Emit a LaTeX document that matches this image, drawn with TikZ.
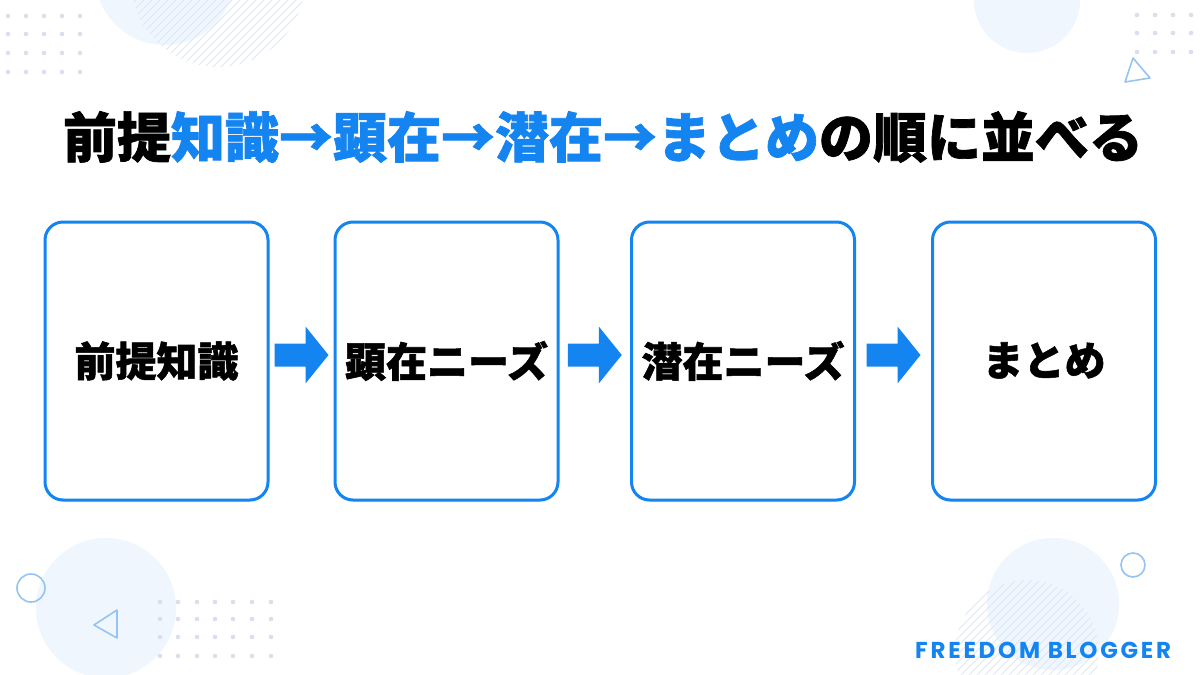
\documentclass[tikz,border=0pt]{standalone}
\usepackage{fontspec}
\newfontfamily\cjk{Noto Sans CJK JP}[BoldFeatures={FakeBold=1.3}]
\newfontfamily\brand{Poppins}[BoldFont={Poppins Bold}, LetterSpace=12]
\usetikzlibrary{calc,shadows}
\definecolor{fbblue}{RGB}{20,132,240}
\definecolor{deco}{RGB}{240,246,254}
\definecolor{hatch}{RGB}{218,232,250}
\definecolor{decoline}{RGB}{150,196,240}
\definecolor{dotc}{RGB}{215,224,240}
\newcommand\barrow[2]{%
  \fill[fbblue] ($(#1.east)!0.5!(#2.west)$) ++(0,-6) ++(-27,-11.5) -- ++(31,0) -- ++(0,-17) -- ++(23,28.5) -- ++(-23,28.5) -- ++(0,-17) -- ++(-31,0) -- cycle;}
\newcommand\boxtxt[1]{\raisebox{4pt}{#1}}
\begin{document}
\begin{tikzpicture}[x=1pt,y=-1pt,
  stepbox/.style={draw=fbblue, line width=3pt, rounded corners=18pt, fill=white,
    minimum width=223pt, minimum height=278pt, inner sep=0pt,
    font=\cjk\bfseries\fontsize{41}{46}\selectfont,
    drop shadow={opacity=0.13, shadow xshift=0pt, shadow yshift=-2pt}},
  dotmark/.style={fill=dotc},
  outl/.style={draw=decoline, line width=1.6pt}]
\useasboundingbox (0,0) rectangle (1200,675);
\fill[white] (0,0) rectangle (1200,675);
% ---- decorations top-left
\fill[deco] (165,-25) circle[radius=70pt];
\begin{scope}
  \clip (218,-20) circle[radius=87pt];
  \foreach \i in {-200,-192,...,500} \draw[hatch, line width=0.9pt] (\i,200) -- (\i+300,-100);
\end{scope}
\foreach \x in {8,26,44,62,80} \foreach \y in {16,34,53,72} \fill[dotmark] (\x,\y) circle[radius=2.3pt];
% ---- top-right
\fill[deco] (1027,0) circle[radius=53pt];
\foreach \x in {1137,1155,1173,1191} \foreach \y in {15,33,52} \fill[dotmark] (\x,\y) circle[radius=2.3pt];
\draw[outl, line join=round] (1133,58) -- (1150,78) -- (1125,82) -- cycle;
% ---- bottom-left
\fill[deco] (106,608) circle[radius=70pt];
\foreach \x in {160,178,197,215,233,252,271} \foreach \y in {602,619,637,656} \fill[dotmark] (\x,\y) circle[radius=2.3pt];
\draw[outl] (31,588) circle[radius=14pt];
\draw[outl, line join=round] (94,625) -- (117,610) -- (117,638) -- cycle;
% ---- bottom-right
\fill[deco] (1053,604) circle[radius=66pt];
\begin{scope}
  \clip (1027,652) circle[radius=72pt];
  \foreach \i in {700,708,...,1300} \draw[hatch, line width=0.9pt] (\i,800) -- (\i+300,500);
\end{scope}
\draw[outl] (1133,565) circle[radius=12pt];
% ---- title
\node[font=\cjk\bfseries\fontsize{54}{60}\selectfont] (title) at (603,137)
  {前提\textcolor{fbblue}{知識→顕在→潜在→まとめ}の順に並べる};
% ---- boxes
\node[stepbox] (b1) at (156.5,361) {\boxtxt{前提知識}};
\node[stepbox] (b2) at (446.5,361) {\boxtxt{顕在ニーズ}};
\node[stepbox] (b3) at (743,361) {\boxtxt{潜在ニーズ}};
\node[stepbox] (b4) at (1044,361) {\boxtxt{まとめ}};
\barrow{b1}{b2}
\barrow{b2}{b3}
\barrow{b3}{b4}
% ---- brand
\node[font=\brand\bfseries\fontsize{23}{26}\selectfont, text=fbblue, anchor=west, inner sep=0pt] (brand) at (915,650) {FREEDOM BLOGGER};
\end{tikzpicture}
\end{document}
